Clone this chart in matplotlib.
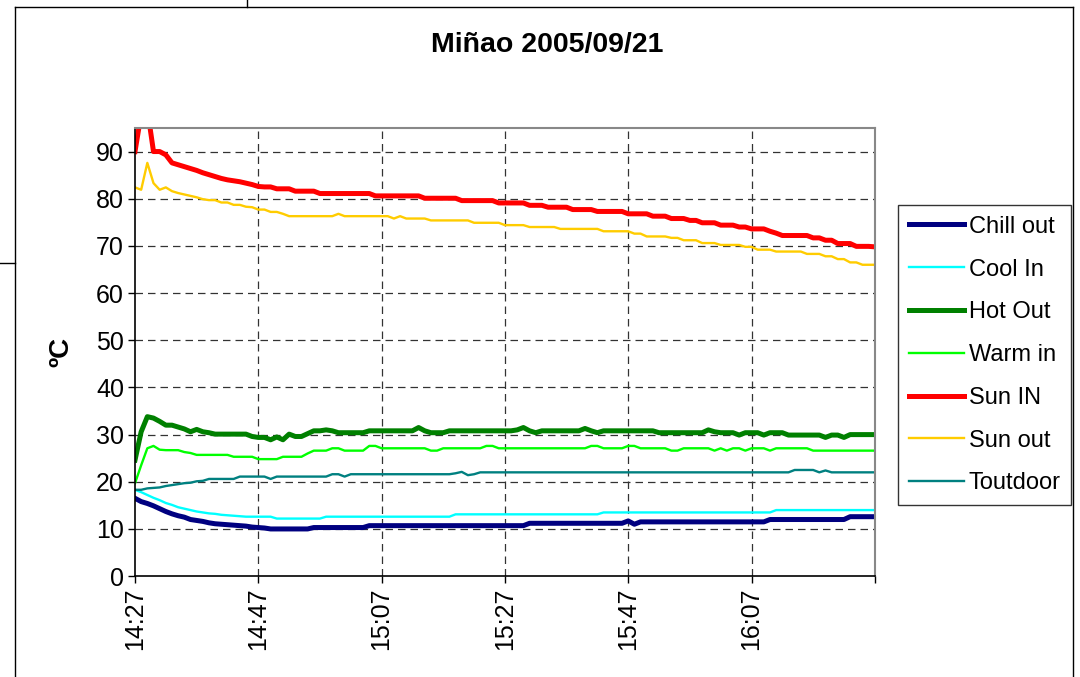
import matplotlib
matplotlib.use('Agg')
import numpy as np
from matplotlib import pyplot as plt
from matplotlib.lines import Line2D

plt.rcParams['font.family'] = ['Liberation Sans', 'DejaVu Sans']

# minutos desde 14:27 (una lectura por minuto)
minutos = np.arange(121)
etiquetas_x = ['14:27', '14:47', '15:07', '15:27', '15:47', '16:07', '']
pos_x = [0, 20, 40, 60, 80, 100, 120]

chill_out = ([16.5, 15.8, 15.4, 14.9, 14.3, 13.7, 13.2, 12.8, 12.5, 12.0,
              11.8, 11.6, 11.3, 11.1, 11.0, 10.9, 10.8, 10.7, 10.6, 10.4,
              10.3, 10.2] + [10.0] * 7 + [10.3] * 9 + [10.7] * 26
             + [11.2] * 16 + [11.7, 11.0] + [11.5] * 21 + [12.0] * 13 + [12.6] * 5)

cool_in = ([18.3, 17.8, 17.2, 16.6, 16.1, 15.5, 15.1, 14.6, 14.3, 14.0,
            13.7, 13.5, 13.3, 13.2, 13.0, 12.9, 12.8, 12.7] + [12.6] * 5
           + [12.2] * 8 + [12.6] * 21 + [13.1] * 24 + [13.5] * 28 + [14.0] * 17)

hot_out = ([24.6, 30.6, 33.8, 33.5, 32.8, 32.0, 32.0, 31.6, 31.2, 30.6,
            31.1, 30.6, 30.4, 30.1, 30.1, 30.1, 30.1, 30.1, 30.1, 29.6,
            29.4, 29.4, 28.9, 29.5, 28.9, 30.1, 29.6, 29.6, 30.2, 30.8,
            30.8, 31.0, 30.8] + [30.4] * 5 + [30.8] * 8
           + [31.5, 30.8, 30.4, 30.4, 30.4] + [30.8] * 11
           + [31.0, 31.5, 30.8, 30.4] + [30.8] * 7 + [31.3, 30.8, 30.4]
           + [30.8] * 9 + [30.4] * 8 + [31.0, 30.6, 30.4, 30.4, 30.4, 29.9,
           30.4, 30.4, 30.4, 29.9, 30.4, 30.4, 30.4] + [29.9] * 6
           + [29.4, 29.9, 29.9, 29.4] + [30.0] * 5)

warm_in = ([19.7, 23.5, 27.1, 27.6, 26.8, 26.7, 26.7, 26.7, 26.3, 26.1]
           + [25.7] * 6 + [25.3] * 4 + [24.8] * 4 + [25.3] * 4
           + [26.0, 26.6, 26.6, 26.6, 27.1, 27.1] + [26.6] * 4 + [27.6, 27.6]
           + [27.1] * 8 + [26.6, 26.6] + [27.1] * 7 + [27.6, 27.6]
           + [27.1] * 15 + [27.6, 27.6] + [27.1] * 4 + [27.6, 27.6]
           + [27.1] * 5 + [26.6, 26.6] + [27.1] * 5 + [26.6, 27.1, 26.6, 27.1, 27.1, 26.6]
           + [27.1] * 3 + [26.6] + [27.1] * 6 + [26.6] * 11)

sun_in = ([90.0, 98.0, 99.0, 90.0, 90.0, 89.3, 87.6, 87.2, 86.8, 86.4,
           86.0, 85.5, 85.1, 84.7, 84.3, 84.0, 83.8, 83.6, 83.3, 83.0,
           82.6, 82.5, 82.5, 82.1, 82.1, 82.1, 81.6, 81.6, 81.6, 81.6]
          + [81.1] * 9 + [80.6] * 8 + [80.1] * 6 + [79.6] * 6 + [79.1] * 5
          + [78.6] * 3 + [78.2] * 4 + [77.7] * 4 + [77.3] * 5 + [76.8] * 4
          + [76.3] * 3 + [75.8] * 3 + [75.4] * 2 + [74.9] * 3 + [74.4] * 3
          + [74.0] * 2 + [73.6] * 3 + [73.1, 72.7] + [72.2] * 5
          + [71.7, 71.7, 71.2, 71.2, 70.5, 70.5, 70.5, 69.9, 69.9, 69.9, 69.8])

sun_out = ([82.4, 81.9, 87.6, 83.3, 81.9, 82.4, 81.6, 81.2, 80.9, 80.6,
            80.3, 79.9, 79.7, 79.7, 79.2, 79.2, 78.7, 78.7, 78.3, 78.2,
            77.7, 77.7, 77.2, 77.2, 76.8] + [76.3] * 8 + [76.8]
           + [76.3] * 8 + [75.8, 76.3] + [75.8] * 4 + [75.4] * 7 + [74.9] * 5
           + [74.4] * 4 + [74.0] * 5 + [73.6] * 7 + [73.1] * 5 + [72.6] * 2
           + [72.0] * 4 + [71.7] * 2 + [71.2] * 3 + [70.6] * 3 + [70.2] * 4
           + [69.8] * 2 + [69.2] * 3 + [68.8] * 5 + [68.3] * 3 + [67.8] * 2
           + [67.2] * 2 + [66.5] * 2 + [66.0] * 3)

toutdoor = ([18.3, 18.3, 18.6, 18.7, 18.8, 19.1, 19.3, 19.5, 19.7, 19.8,
             20.1, 20.2] + [20.6] * 5 + [21.1] * 5 + [20.6] + [21.1] * 9
            + [21.6, 21.6, 21.1] + [21.6] * 17 + [21.8, 22.1, 21.4, 21.6]
            + [22.0] * 51 + [22.5] * 4 + [22.0, 22.4] + [22.0] * 8)

series = [
    ('Chill out', chill_out, '#000080', 3.6),
    ('Cool In', cool_in, '#00FFFF', 1.7),
    ('Hot Out', hot_out, '#008000', 3.6),
    ('Warm in', warm_in, '#00FF00', 1.7),
    ('Sun IN', sun_in, '#FF0000', 3.6),
    ('Sun out', sun_out, '#FFCC00', 1.7),
    ('Toutdoor', toutdoor, '#008080', 1.7),
]

fig = plt.figure(figsize=(10.8, 6.77), dpi=100)
ax = fig.add_axes([0.125, 0.149, 0.685, 0.662])

for nombre, valores, color, ancho in series:
    ax.plot(minutos, valores, color=color, lw=ancho, label=nombre,
            solid_joinstyle='round')

ax.set_xlim(0, 120)
ax.set_ylim(0, 95)
ax.set_yticks(np.arange(0, 91, 10))
ax.set_xticks(pos_x)
ax.set_xticklabels(etiquetas_x, rotation=90)
ax.tick_params(axis='both', labelsize=18, direction='out', length=5, width=1)
ax.tick_params(axis='x', pad=3)
ax.tick_params(axis='y', pad=3)

# grilla punteada como en Excel
for v in np.arange(10, 91, 10):
    ax.axhline(v, color='#333333', lw=0.9, dashes=(6, 4), zorder=0)
for v in pos_x[1:-1]:
    ax.axvline(v, color='#333333', lw=0.9, dashes=(6, 4), zorder=0)

ax.spines['top'].set_color('#888888')
ax.spines['right'].set_color('#888888')
ax.spines['top'].set_linewidth(1.5)
ax.spines['right'].set_linewidth(1.5)
ax.spines['left'].set_linewidth(1.2)
ax.spines['bottom'].set_linewidth(1.2)

ax.set_ylabel('ºC', fontsize=20, fontweight='bold')
ax.yaxis.set_label_coords(-0.082, 0.5)
fig.text(0.507, 0.933, 'Miñao 2005/09/21', ha='center', va='center',
         fontsize=20.5, fontweight='bold')

leg = ax.legend(loc='upper left', bbox_to_anchor=(0.8315, 0.697),
                bbox_transform=fig.transFigure, fontsize=17, frameon=True,
                fancybox=False, edgecolor='black', borderaxespad=0,
                labelspacing=0.88, handlelength=2.35, handletextpad=0.2,
                borderpad=0.45)
leg.get_frame().set_linewidth(1.0)

# bordes del area del grafico y celdas de la hoja
W, H = 1080, 677
def linea(x0, y0, x1, y1):
    fig.add_artist(Line2D([x0 / W, x1 / W], [1 - y0 / H, 1 - y1 / H],
                          color='black', lw=1.0, transform=fig.transFigure))

linea(15, 7, 1073, 7)
linea(15, 7, 15, 677)
linea(1073, 7, 1073, 677)
linea(247, 0, 247, 7)
linea(0, 263, 15, 263)

fig.savefig('out.png', dpi=100)
